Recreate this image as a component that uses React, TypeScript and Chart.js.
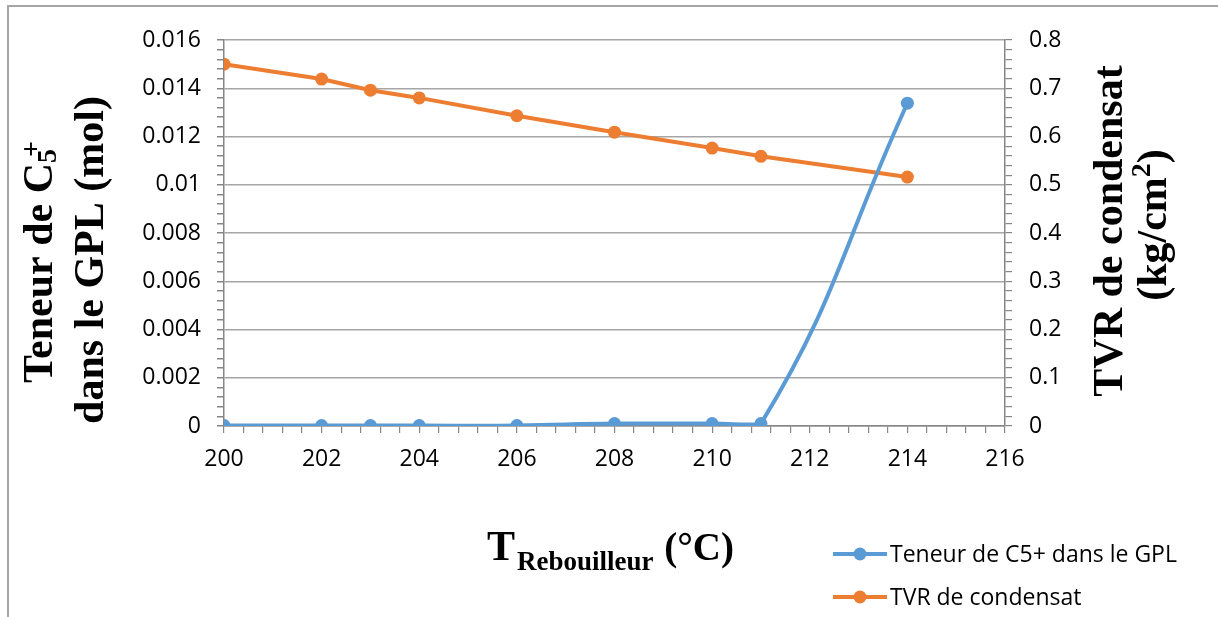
import React, { useEffect, useRef } from "react";
import { Chart, registerables } from "chart.js";

Chart.register(...registerables);

const temperatures = [200, 202, 203, 204, 206, 208, 210, 211, 214];
const c5Values = [0.00002, 0.00002, 0.00002, 0.00002, 0.00002, 0.0001, 0.0001, 0.0001, 0.01338];
const tvrValues = [0.75, 0.719, 0.696, 0.68, 0.643, 0.609, 0.576, 0.559, 0.516];

const seriesNames = ["Teneur de C5+ dans le GPL", "TVR de condensat"];
const seriesColors = ["#5b9bd5", "#ed7d31"];

const xMin = 200, xMax = 216, xMajor = 2, xMinor = 0.4;
const yLeftMax = 0.016, yLeftMajor = 0.002, yLeftMinor = 0.0004;
const yRightMax = 0.8, yRightMajor = 0.1, yRightMinor = 0.02;

const TICK_FONT = { family: "'Open Sans', sans-serif", size: 23 };
const SERIF = "'Liberation Serif', 'Times New Roman', serif";

const isMajor = (v: number, major: number) => Math.abs(v / major - Math.round(v / major)) < 1e-6;
const fmt = (v: number, d: number) => String(parseFloat(v.toFixed(d)));

type Seg = { text: string; size: number; dy?: number; dx?: number; advance?: boolean };

function drawRich(ctx: CanvasRenderingContext2D, segs: Seg[], x: number, y: number, rot: number, align: "center" | "left") {
  ctx.save();
  ctx.translate(x, y);
  ctx.rotate(rot);
  ctx.fillStyle = "#000";
  ctx.textBaseline = "alphabetic";
  ctx.textAlign = "left";
  let total = 0;
  for (const s of segs) {
    ctx.font = `bold ${s.size}px ${SERIF}`;
    if (s.advance !== false) total += ctx.measureText(s.text).width + (s.dx || 0);
  }
  let cx = align === "center" ? -total / 2 : 0;
  for (const s of segs) {
    ctx.font = `bold ${s.size}px ${SERIF}`;
    const w = ctx.measureText(s.text).width;
    ctx.fillText(s.text, cx + (s.dx || 0), s.dy || 0);
    if (s.advance !== false) cx += w + (s.dx || 0);
  }
  ctx.restore();
}

const decorPlugin = {
  id: "decor",
  beforeDraw(chart: any) {
    const ctx = chart.ctx as CanvasRenderingContext2D;
    ctx.save();
    ctx.strokeStyle = "#a6a6a6";
    ctx.lineWidth = 2;
    ctx.beginPath();
    ctx.moveTo(8, 617);
    ctx.lineTo(8, 6);
    ctx.lineTo(1218, 6);
    ctx.stroke();
    ctx.restore();
  },
  afterDraw(chart: any) {
    const ctx = chart.ctx as CanvasRenderingContext2D;
    // left axis title
    drawRich(ctx, [
      { text: "Teneur de C", size: 42 },
      { text: "5", size: 28, dy: 4, advance: false },
      { text: "+", size: 28, dy: -12, dx: 6 },
    ], 52, 262, -Math.PI / 2, "center");
    drawRich(ctx, [{ text: "dans le GPL (mol)", size: 42 }], 103, 260, -Math.PI / 2, "center");
    // right axis title
    drawRich(ctx, [{ text: "TVR de condensat", size: 42 }], 1122, 231, -Math.PI / 2, "center");
    drawRich(ctx, [
      { text: "(kg/cm", size: 42 },
      { text: "2", size: 28, dy: -16 },
      { text: ")", size: 42 },
    ], 1166, 225, -Math.PI / 2, "center");
    // x axis title
    drawRich(ctx, [
      { text: "T", size: 42 },
      { text: "Rebouilleur", size: 27, dy: 10, dx: 2 },
      { text: " (°C)", size: 39, dx: 1 },
    ], 487, 560, 0, "left");
    // legend
    ctx.save();
    for (let i = 0; i < seriesNames.length; i++) {
      const cy = 554 + i * 43;
      ctx.strokeStyle = seriesColors[i];
      ctx.lineWidth = 4;
      ctx.beginPath();
      ctx.moveTo(833, cy);
      ctx.lineTo(887, cy);
      ctx.stroke();
      ctx.fillStyle = seriesColors[i];
      ctx.beginPath();
      ctx.arc(860, cy, 6.5, 0, Math.PI * 2);
      ctx.fill();
      ctx.fillStyle = "#000";
      ctx.font = `${TICK_FONT.size}px ${TICK_FONT.family}`;
      ctx.textBaseline = "middle";
      ctx.textAlign = "left";
      ctx.fillText(seriesNames[i], 890, cy + 1);
    }
    ctx.restore();
  },
};

export default function App() {
  const ref = useRef<HTMLCanvasElement | null>(null);
  useEffect(() => {
    if (!ref.current) return;
    const chart = new Chart(ref.current, {
      type: "line",
      data: {
        datasets: [
          {
            label: seriesNames[0],
            data: temperatures.map((t, i) => ({ x: t, y: c5Values[i] })),
            borderColor: seriesColors[0],
            backgroundColor: seriesColors[0],
            borderWidth: 4,
            pointRadius: 6.5,
            pointBorderWidth: 0,
            tension: 0.45,
            yAxisID: "y",
          },
          {
            label: seriesNames[1],
            data: temperatures.map((t, i) => ({ x: t, y: tvrValues[i] })),
            borderColor: seriesColors[1],
            backgroundColor: seriesColors[1],
            borderWidth: 4,
            pointRadius: 6.5,
            pointBorderWidth: 0,
            tension: 0,
            yAxisID: "y1",
          },
        ],
      },
      options: {
        animation: false,
        responsive: false,
        maintainAspectRatio: false,
        layout: { padding: { left: 0, right: 0, top: 40, bottom: 0 } },
        plugins: { legend: { display: false }, tooltip: { enabled: false }, title: { display: false } },
        scales: {
          x: {
            type: "linear",
            min: xMin,
            max: xMax,
            ticks: {
              stepSize: xMinor,
              autoSkip: false,
              maxRotation: 0,
              padding: 13,
              color: "#000",
              font: TICK_FONT,
              callback: (v: any) => (isMajor(v - xMin, xMajor) ? fmt(v, 0) : ""),
            },
            grid: { drawOnChartArea: false, tickLength: 7, color: "#868686", lineWidth: 1.2 },
            border: { color: "#868686", width: 1.5 },
            afterFit: (s: any) => { s.height = 191; },
          },
          y: {
            type: "linear",
            position: "left",
            min: 0,
            max: yLeftMax,
            ticks: {
              stepSize: yLeftMinor,
              autoSkip: false,
              padding: 16,
              color: "#000",
              font: TICK_FONT,
              callback: (v: any) => (isMajor(v, yLeftMajor) ? fmt(v, 3) : ""),
            },
            grid: {
              tickLength: 7,
              color: (c: any) => (c.tick && isMajor(c.tick.value, yLeftMajor) ? "#a6a6a6" : "rgba(0,0,0,0)"),
              tickColor: "#868686",
              lineWidth: 1.5,
            },
            border: { color: "#868686", width: 1.5 },
            afterFit: (s: any) => { s.width = 224; },
          },
          y1: {
            type: "linear",
            position: "right",
            min: 0,
            max: yRightMax,
            ticks: {
              stepSize: yRightMinor,
              autoSkip: false,
              padding: 17,
              color: "#000",
              font: TICK_FONT,
              callback: (v: any) => (isMajor(v, yRightMajor) ? fmt(v, 1) : ""),
            },
            grid: { drawOnChartArea: false, tickLength: 7, color: "#868686", lineWidth: 1.2 },
            border: { color: "#868686", width: 1.5 },
            afterFit: (s: any) => { s.width = 213; },
          },
        },
      },
      plugins: [decorPlugin],
    } as any);
    return () => chart.destroy();
  }, []);
  return (
    <div style={{ position: "absolute", left: 0, top: 0, width: 1218, height: 617, background: "#fff" }}>
      <canvas ref={ref} width={1218} height={617} style={{ width: 1218, height: 617, display: "block" }} />
    </div>
  );
}
